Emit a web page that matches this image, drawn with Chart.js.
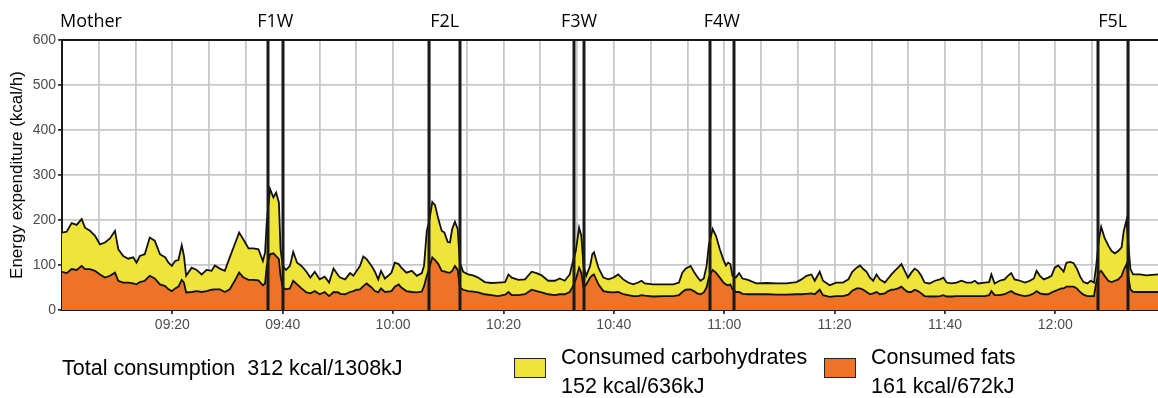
<!DOCTYPE html>
<html>
<head>
<meta charset="utf-8">
<script src="https://cdn.jsdelivr.net/npm/chart.js@4.4.1/dist/chart.umd.min.js"></script>
<style>
  body { margin: 0; background: #fff; }
  #wrap { position: relative; width: 1158px; height: 398px; }
  .txt { position: absolute; font-family: "Liberation Sans", Arial, sans-serif; font-size: 21.5px; line-height: 21px; color: #000; white-space: pre; }
  .box { position: absolute; width: 30px; height: 18px; border: 1.5px solid #222; }
</style>
</head>
<body>
<div id="wrap">
  <canvas id="energy"></canvas>
  <div class="txt" style="left:62px; top:358px;">Total consumption  312 kcal/1308kJ</div>
  <div class="box" style="left:514px; top:358px; background:#efe43a;"></div>
  <div class="txt" style="left:561px; top:347px;">Consumed carbohydrates</div>
  <div class="txt" style="left:561px; top:376px;">152 kcal/636kJ</div>
  <div class="box" style="left:824px; top:358px; background:#ec7327;"></div>
  <div class="txt" style="left:871px; top:347px;">Consumed fats</div>
  <div class="txt" style="left:871px; top:376px;">161 kcal/672kJ</div>
</div>
<script>
// minutes after 09:00
const timeMin = [
  0, 0.85, 1.75, 2.66, 3.56, 4.17, 5.07, 5.98, 6.88, 7.79, 8.7, 9.6, 10.2, 11.1, 12.0, 12.9, 13.5, 14.1, 15.0, 15.9,
  16.8, 17.75, 18.7, 19.3, 19.9, 20.5, 21.1, 21.7, 22.1, 22.5, 23.5, 24.4, 25.3, 26.2, 27.1, 27.7, 28.6, 29.5, 30.4, 31.3,
  32.1, 32.9, 33.8, 34.7, 35.6, 36.4, 36.8, 37.1, 37.7, 38.3, 38.8, 39.3, 39.6, 40.0, 40.6, 41.3, 41.9, 42.6, 43.4, 44.3,
  45.0, 45.8, 46.7, 47.6, 48.4, 49.2, 50.1,
  50.4, 51.3, 52.2, 52.8, 53.4, 54.0, 54.6, 55.2, 56.1, 56.7, 57.3, 57.8, 58.5, 59.1, 59.7, 60.3, 61.0, 61.5, 62.4, 63.4,
  64.3, 65.2, 65.6, 66.1, 66.5, 67.1, 67.6, 68.2, 68.8, 69.3, 69.9, 70.3, 70.7, 71.2, 71.7, 72.1, 72.7, 73.6, 74.5, 75.4,
  76.6, 77.8, 79.0, 80.3, 80.9, 81.5, 82.7, 83.9, 85.1, 86.0, 86.9, 88.1, 89.3, 90.2, 91.1, 92.0, 92.6, 93.1, 93.7, 94.1,
  94.5, 95.0, 95.7, 96.1, 96.4, 97.2, 98.1, 99.0,
  99.9, 100.8, 101.7, 102.6, 103.5, 104.4, 105.0, 105.6, 107.1, 109.0, 110.8, 111.8, 112.4, 113.0, 113.9, 114.5, 115.1, 115.7, 116.3, 116.8,
  117.2, 117.9, 118.5, 119.2, 119.8, 120.3, 120.7, 121.1, 121.5, 122.1, 122.7, 123.3, 124.3, 125.8, 127.7, 129.5, 131.3, 133.1, 134.0, 134.9,
  135.8, 136.4, 137.3, 137.9, 139.1, 140.3, 141.5, 142.5, 143.2, 144.0, 144.6, 145.2, 145.8, 146.4, 147.0, 147.6, 148.2, 149.1,
  149.7, 150.3, 150.9, 151.5, 152.1, 152.7, 153.3, 153.9, 154.5, 155.1, 155.7, 156.3, 157.2, 158.2, 159.1, 159.7, 160.3, 161.2, 162.1, 163.0,
  163.9, 164.8, 165.4, 166.0, 167.2, 168.0, 168.4, 169.0, 169.9, 170.8, 171.4, 172.0, 172.6, 173.6, 174.5, 175.4, 176.1, 176.6, 177.2, 177.9,
  178.7, 179.3, 179.9, 180.5, 181.1, 181.5, 182.0, 182.7, 183.3, 183.9, 184.5, 185.1, 185.8, 186.4, 187.0, 187.4, 187.9, 188.3, 188.9, 189.6,
  190.2, 190.8, 191.4, 192.0, 192.4, 192.9, 193.2, 193.6, 194.1, 195.3, 196.5, 198.6
];
// total expenditure (kcal/h) = top of the yellow band
const totalKcal = [
  172, 174, 193, 189, 202, 183, 176, 165, 146, 150, 159, 176, 135, 120, 114, 117, 105, 120, 124, 161,
  154, 124, 117, 105, 98, 109, 111, 144, 120, 76, 94, 89, 79, 89, 87, 99, 92, 87, 117, 146,
  172, 156, 137, 137, 135, 109, 128, 195, 269, 250, 261, 239, 135, 98, 89, 98, 129, 105, 98, 85,
  72, 85, 68, 74, 61, 92, 76,
  72, 68, 82, 76, 87, 98, 119, 113, 98, 85, 68, 87, 70, 76, 83, 105, 102, 94, 83, 87,
  76, 82, 98, 176, 195, 240, 233, 202, 176, 172, 151, 150, 180, 196, 180, 105, 85, 79, 77, 72,
  62, 60, 61, 62, 79, 72, 67, 68, 85, 82, 77, 65, 65, 70, 65, 79, 109, 131, 183, 165,
  98, 76, 98, 124, 128, 94, 72, 68,
  72, 79, 68, 61, 57, 61, 65, 59, 57, 57, 57, 61, 83, 92, 98, 85, 74, 65, 70, 98,
  143, 180, 165, 135, 113, 99, 105, 102, 76, 72, 82, 70, 67, 59, 60, 59, 59, 62, 68, 76,
  79, 65, 85, 65, 55, 61, 61, 68, 85, 94, 99, 91, 85, 72, 65, 79, 68, 61,
  70, 79, 87, 94, 102, 87, 72, 83, 92, 87, 76, 61, 59, 65, 68, 72, 61, 59, 61, 65,
  61, 61, 65, 59, 61, 62, 79, 59, 65, 68, 76, 82, 68, 65, 61, 65, 70, 87, 76, 68,
  72, 76, 94, 99, 91, 85, 105, 107, 104, 92, 74, 62, 59, 65, 61, 98, 157, 185, 161, 143,
  131, 126, 131, 139, 176, 200, 150, 91, 79, 79, 77, 79
];
// fats (kcal/h) = top of the orange band
const fatKcal = [
  85, 82, 91, 89, 98, 91, 91, 87, 79, 72, 76, 83, 65, 61, 61, 59, 57, 62, 65, 76,
  70, 57, 53, 46, 42, 48, 52, 67, 61, 39, 40, 42, 40, 42, 45, 46, 46, 40, 46, 65,
  83, 72, 67, 67, 66, 55, 59, 98, 124, 126, 120, 113, 76, 50, 46, 48, 65, 57, 48, 39,
  37, 42, 35, 40, 31, 40, 39,
  36, 35, 40, 42, 45, 46, 53, 59, 50, 42, 39, 48, 40, 41, 42, 52, 57, 50, 42, 40,
  39, 41, 53, 76, 91, 117, 111, 102, 87, 86, 83, 83, 87, 98, 89, 50, 45, 42, 41, 39,
  35, 33, 31, 34, 40, 33, 33, 35, 45, 42, 39, 35, 33, 35, 35, 40, 53, 68, 94, 83,
  50, 57, 72, 77, 79, 57, 42, 40,
  39, 40, 35, 33, 31, 31, 33, 32, 30, 31, 31, 33, 40, 45, 46, 42, 37, 35, 39, 50,
  72, 89, 83, 72, 62, 57, 55, 57, 46, 40, 40, 36, 35, 35, 35, 34, 34, 35, 35, 36,
  37, 35, 45, 33, 29, 31, 31, 34, 43, 48, 48, 45, 40, 35, 37, 40, 35, 37,
  42, 45, 46, 48, 52, 45, 40, 40, 45, 42, 37, 31, 30, 30, 31, 33, 30, 30, 31, 31,
  31, 31, 31, 31, 31, 33, 42, 33, 33, 35, 39, 42, 37, 33, 31, 33, 37, 42, 37, 35,
  35, 39, 42, 45, 48, 48, 52, 52, 52, 48, 40, 34, 31, 31, 31, 61, 83, 87, 76, 65,
  62, 65, 68, 76, 89, 102, 76, 46, 40, 40, 40, 40
];

const xTickLabels = ["09:20", "09:40", "10:00", "10:20", "10:40", "11:00", "11:20", "11:40", "12:00"];
const eventNames = ["F1W", "F2L", "F3W", "F4W", "F5L"];
const eventStart = [37.35, 66.5, 92.8, 117.4, 187.7];
const eventEnd = [39.97, 72.2, 94.6, 121.7, 193.1];
const firstLabel = "Mother";

const xMax = 198.6;
const gridStep = 20 / 3; // grid every 6'40"

function toClock(m) {
  const h = 9 + Math.floor(Math.round(m) / 60);
  const mm = Math.round(m) % 60;
  return String(h).padStart(2, "0") + ":" + String(mm).padStart(2, "0");
}
function labelFor(v) {
  const s = toClock(v);
  return (Math.abs(v - Math.round(v)) < 1e-6 && xTickLabels.includes(s)) ? s : "";
}

const totalPts = timeMin.map((t, i) => ({ x: t, y: totalKcal[i] }));
const fatPts = timeMin.map((t, i) => ({ x: t, y: fatKcal[i] }));

// top frame line, feeding markers and their names
const eventsPlugin = {
  id: "events",
  afterDatasetsDraw(chart) {
    const ctx = chart.ctx;
    const area = chart.chartArea;
    const xs = chart.scales.x;
    ctx.save();
    ctx.strokeStyle = "#1a1a1a";
    ctx.lineWidth = 3;
    for (let i = 0; i < eventNames.length; i++) {
      [eventStart[i], eventEnd[i]].forEach(t => {
        const px = Math.round(xs.getPixelForValue(t));
        ctx.beginPath();
        ctx.moveTo(px, area.top);
        ctx.lineTo(px, area.bottom);
        ctx.stroke();
      });
    }
    ctx.lineWidth = 2;
    ctx.beginPath();
    ctx.moveTo(area.left, area.top);
    ctx.lineTo(area.right, area.top);
    ctx.stroke();

    ctx.fillStyle = "#000";
    ctx.font = '18px "Open Sans", "Noto Sans", sans-serif';
    ctx.textBaseline = "alphabetic";
    ctx.textAlign = "left";
    ctx.fillText(firstLabel, area.left - 2, 27);
    ctx.textAlign = "center";
    for (let i = 0; i < eventNames.length; i++) {
      const mid = (xs.getPixelForValue(eventStart[i]) + xs.getPixelForValue(eventEnd[i])) / 2;
      ctx.fillText(eventNames[i], mid, 27);
    }
    ctx.restore();
  }
};

new Chart("energy", {
  type: "line",
  data: {
    datasets: [
      {
        label: "Consumed fats",
        data: fatPts,
        borderColor: "#111",
        borderWidth: 1.8,
        backgroundColor: "#ec7327",
        fill: "origin",
        pointRadius: 0,
        tension: 0
      },
      {
        label: "Consumed carbohydrates",
        data: totalPts,
        borderColor: "#111",
        borderWidth: 1.8,
        backgroundColor: "#efe43a",
        fill: "-1",
        pointRadius: 0,
        tension: 0
      }
    ]
  },
  options: {
    responsive: true,
    maintainAspectRatio: false,
    animation: false,
    devicePixelRatio: 1,
    layout: { padding: { top: 40, right: 0, bottom: 0, left: 0 } },
    plugins: {
      legend: { display: false },
      tooltip: { enabled: false }
    },
    scales: {
      x: {
        type: "linear",
        min: 0,
        max: xMax,
        afterBuildTicks: s => {
          const t = [];
          for (let v = 0; v <= xMax + 1e-9; v += gridStep) t.push({ value: Math.round(v * 1000) / 1000 });
          s.ticks = t;
        },
        afterFit: s => { s.height = 88; },
        ticks: {
          autoSkip: false,
          maxRotation: 0,
          padding: 3,
          color: "#4d4d4d",
          font: { family: '"Liberation Sans", Arial, sans-serif', size: 14 },
          callback: v => labelFor(v)
        },
        grid: {
          color: "#c8c8c8",
          lineWidth: 1.8,
          tickLength: 4,
          tickColor: c => (c.tick && labelFor(c.tick.value)) ? "#333" : "rgba(0,0,0,0)"
        },
        border: { color: "#1a1a1a", width: 2 }
      },
      y: {
        min: 0,
        max: 600,
        afterFit: s => { s.width = 62; },
        ticks: {
          stepSize: 100,
          padding: 2,
          color: "#4d4d4d",
          font: { family: '"Liberation Sans", Arial, sans-serif', size: 14 }
        },
        grid: { color: "#c8c8c8", lineWidth: 1.8, tickLength: 4, tickColor: "#333" },
        border: { color: "#1a1a1a", width: 2 },
        title: {
          display: true,
          text: "Energy expenditure (kcal/h)",
          color: "#000",
          font: { family: '"Liberation Sans", Arial, sans-serif', size: 17 },
          padding: { top: 7, bottom: 0 }
        }
      }
    }
  },
  plugins: [eventsPlugin]
});
</script>
</body>
</html>
